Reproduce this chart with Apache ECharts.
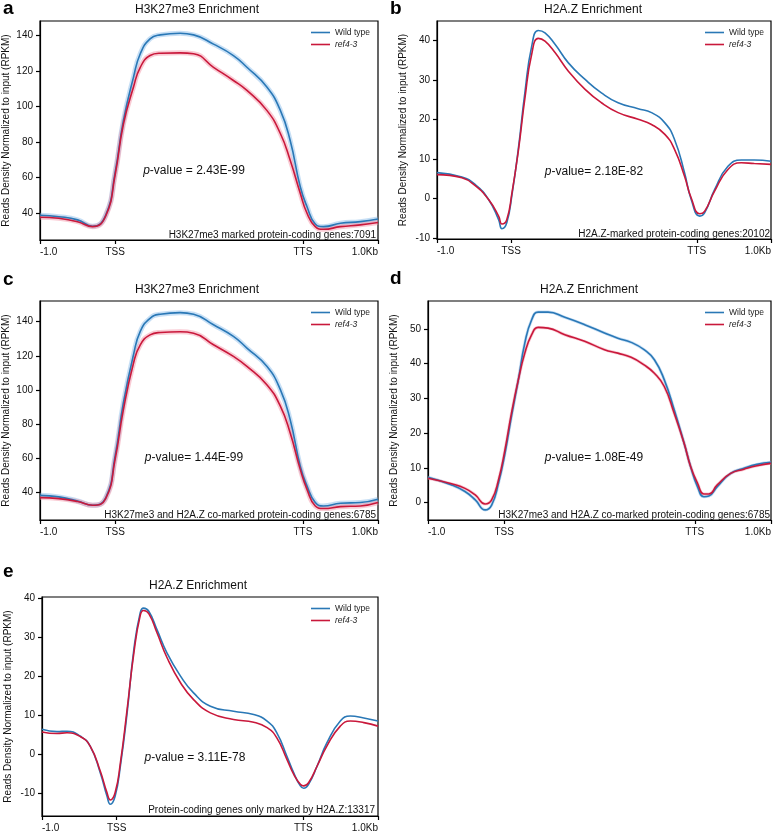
<!DOCTYPE html>
<html>
<head>
<meta charset="utf-8">
<script src="https://cdn.jsdelivr.net/npm/echarts@6/dist/echarts.min.js"></script>
<style>
  html, body { margin: 0; padding: 0; background: #fff; }
  #chart { width: 774px; height: 833px; }
</style>
</head>
<body>
<div id="chart"></div>
<script>
// x positions are in bp: TSS = 0, TTS = 2500 (scaled gene body), -1.0 = -1000, 1.0Kb = 3500
const xTickValues = [-1000, 0, 2500, 3500];
const xTickLabels = ['-1.0', 'TSS', 'TTS', '1.0Kb'];

// panel a
const aX = [-1000, -750, -500, -300, -125, 0, 110, 245, 335, 465, 600, 865, 1045, 1310, 1575, 1755, 2020, 2200, 2330, 2465, 2555, 2665, 2775, 3000, 3265, 3500];
const aWT = [38.9, 38.1, 36.3, 32.7, 39, 63, 92, 116.5, 129.6, 138, 140.2, 141.1, 140.2, 135, 128.6, 122, 110.9, 97.8, 81, 54.9, 43.7, 34, 32.5, 34.4, 35.3, 36.8];
const aRef = [37.8, 37.2, 35.3, 32.5, 38.5, 61.5, 90, 110.9, 122, 128.6, 129.9, 130.1, 129.6, 122, 114.6, 109, 97.8, 84.8, 69.9, 51.2, 40, 32.5, 31, 32.5, 33.5, 34.8];
const aYTicks = [40, 60, 80, 100, 120, 140];

// panel b
const bX = [-1000, -665, -485, -305, -170, -125, -60, 10, 95, 185, 275, 365, 455, 590, 770, 995, 1215, 1440, 1710, 1890, 2070, 2200, 2335, 2425, 2540, 2605, 2740, 2920, 3100, 3275, 3500];
const bWT = [6.6, 5.5, 3.6, -0.2, -5.3, -7.6, -6.1, 1.0, 12.5, 27, 38.5, 42.6, 42, 39.1, 34.4, 30.2, 26.8, 24.3, 22.8, 21.8, 19.2, 15, 6.6, -0.2, -4.4, -3.6, 2.3, 8.2, 9.8, 9.8, 9.5];
const bRef = [6.1, 5.3, 3.3, -0.2, -4.4, -6.4, -5.3, 1.5, 12, 25.5, 36.5, 40.6, 39.9, 37, 32.3, 27.7, 24.3, 21.8, 20.1, 18.8, 16.3, 12.5, 5.7, 0.2, -3.8, -3.2, 1.9, 7.4, 9.1, 8.9, 8.7];
const bYTicks = [-10, 0, 10, 20, 30, 40];

// panel c
const cX = [-1000, -750, -500, -300, -125, 0, 110, 245, 335, 465, 600, 865, 1045, 1310, 1575, 1755, 2020, 2200, 2330, 2465, 2555, 2665, 2775, 3000, 3265, 3500];
const cWT = [38.4, 37.5, 35.1, 32.6, 37, 61.4, 92.4, 120.6, 134.2, 141.9, 144.3, 145.2, 144.3, 138.1, 131.3, 124.5, 113.8, 100.2, 82.7, 55.5, 43.9, 34.2, 32.2, 33.8, 34.2, 36.1];
const cRef = [37.1, 36.5, 34.8, 32.6, 36.5, 59.4, 88.5, 115.7, 126.4, 132.2, 133.6, 134, 133.2, 126.4, 119.6, 113.8, 103.1, 90.5, 75, 53.6, 41.9, 32.2, 30.7, 31.8, 32.2, 34.2];
const cYTicks = [40, 60, 80, 100, 120, 140];

// panel d
const dX = [-1000, -690, -515, -380, -250, -165, -75, 10, 95, 185, 270, 360, 445, 575, 795, 1055, 1315, 1490, 1665, 1835, 1970, 2100, 2230, 2360, 2445, 2535, 2620, 2685, 2795, 2970, 3145, 3315, 3500];
const dWT = [7.3, 5.1, 3.2, 0.8, -2.1, -0.7, 5.6, 14.2, 24.8, 35.3, 45.9, 52.6, 54.8, 54.8, 53.3, 51.2, 48.8, 47.3, 46.1, 44, 41.1, 35.3, 26.7, 17.1, 10.4, 4.6, 1.7, 1.9, 4.6, 8.4, 9.9, 11, 11.6];
const dRef = [7, 5.4, 4.1, 2.2, -0.4, 0.8, 6.5, 15.2, 25.7, 35.3, 43, 48.3, 50.4, 50.2, 48.3, 46.4, 44, 43, 41.8, 39.6, 37.2, 33.4, 25.7, 17.1, 10.4, 5.6, 2.5, 2.5, 5.1, 8.4, 9.6, 10.6, 11.3];
const dYTicks = [0, 10, 20, 30, 40, 50];

// panel e
const eX = [-1000, -800, -665, -485, -355, -220, -130, -85, -20, 50, 140, 230, 315, 360, 430, 540, 675, 855, 1030, 1255, 1565, 1835, 2015, 2145, 2280, 2370, 2460, 2505, 2570, 2685, 2815, 2995, 3130, 3310, 3500];
const eWT = [6.4, 5.8, 5.9, 4.6, 2.1, -4.7, -10.7, -12.8, -10.7, -3, 10.6, 26.8, 36.2, 37.4, 36.6, 31.9, 25.9, 20, 15.7, 12.3, 11, 10.2, 8.5, 5.5, -0.5, -4.7, -8.1, -8.7, -7.7, -3, 2.9, 8.5, 9.8, 9.3, 8.5];
const eRef = [5.7, 5.3, 5.5, 4.5, 2.1, -4.3, -9.8, -11.7, -9.8, -2.2, 11.5, 25.9, 35.5, 36.8, 36, 31.1, 24.7, 18.3, 14, 10.6, 8.9, 8.2, 6.8, 4.2, -1.3, -5.1, -7.7, -8.1, -7.3, -3, 2.1, 7.2, 8.5, 8.1, 7.2];
const eYTicks = [-10, 0, 10, 20, 30, 40];

const FONT = 'Liberation Sans, Arial, sans-serif';
const BLUE = '#2a78b6';
const RED = '#c9183b';
const SMOOTH = 0.5;
const yName = 'Reads Density Normalized to input (RPKM)';

const panels = [
  { letter: 'a', x: aX, wt: aWT, ref: aRef, yTicks: aYTicks, yMin: 25, yMax: 148,
    grid: { left: 40, top: 21, width: 338, height: 219 }, band: 5,
    title: 'H3K27me3 Enrichment', titleX: 197, titleY: 9, letterPos: [3, 9],
    pText: ' = 2.43E-99', pPos: [194, 171],
    note: 'H3K27me3 marked protein-coding genes:7091', notePos: [376, 235] },
  { letter: 'b', x: bX, wt: bWT, ref: bRef, yTicks: bYTicks, yMin: -10.2, yMax: 45,
    grid: { left: 437, top: 21, width: 335, height: 218 }, band: 0,
    title: 'H2A.Z Enrichment', titleX: 593, titleY: 9, letterPos: [390, 9],
    pText: '= 2.18E-82', pPos: [594, 172],
    note: 'H2A.Z-marked protein-coding genes:20102', notePos: [770, 234] },
  { letter: 'c', x: cX, wt: cWT, ref: cRef, yTicks: cYTicks, yMin: 24, yMax: 152,
    grid: { left: 40, top: 301, width: 338, height: 219 }, band: 5,
    title: 'H3K27me3 Enrichment', titleX: 197, titleY: 289, letterPos: [3, 280],
    pText: '= 1.44E-99', pPos: [194, 458],
    note: 'H3K27me3 and H2A.Z co-marked protein-coding genes:6785', notePos: [376, 515] },
  { letter: 'd', x: dX, wt: dWT, ref: dRef, yTicks: dYTicks, yMin: -5, yMax: 58,
    grid: { left: 428, top: 301, width: 344, height: 219 }, band: 3,
    title: 'H2A.Z Enrichment', titleX: 589, titleY: 289, letterPos: [390, 279],
    pText: '= 1.08E-49', pPos: [594, 458],
    note: 'H3K27me3 and H2A.Z co-marked protein-coding genes:6785', notePos: [770, 515] },
  { letter: 'e', x: eX, wt: eWT, ref: eRef, yTicks: eYTicks, yMin: -15.8, yMax: 40.25,
    grid: { left: 42, top: 597, width: 336, height: 219 }, band: 0,
    title: 'H2A.Z Enrichment', titleX: 198, titleY: 585, letterPos: [3, 572],
    pText: ' = 3.11E-78', pPos: [195, 758],
    note: 'Protein-coding genes only marked by H2A.Z:13317', notePos: [375, 810] }
];

const zip = (xs, ys) => xs.map((x, i) => [x, ys[i]]);

const grids = [], xAxes = [], yAxes = [], series = [], titles = [], legends = [], graphics = [];

panels.forEach((p, i) => {
  grids.push(Object.assign({ show: true, borderColor: '#000', borderWidth: 1.2, containLabel: false }, p.grid));

  xAxes.push({
    gridIndex: i, type: 'value', min: -1000, max: 3500,
    axisLine: { show: true, onZero: false, lineStyle: { color: '#000', width: 1.2 } },
    axisTick: { show: true, length: 4, customValues: xTickValues, lineStyle: { color: '#000', width: 1.2 } },
    axisLabel: {
      customValues: xTickValues, margin: 7, fontSize: 10, fontFamily: FONT, color: '#111',
      alignMinLabel: 'left', alignMaxLabel: 'right',
      formatter: v => xTickLabels[xTickValues.indexOf(v)]
    },
    splitLine: { show: false }
  });

  yAxes.push({
    gridIndex: i, type: 'value', min: p.yMin, max: p.yMax,
    name: yName, nameLocation: 'middle', nameGap: 29, nameRotate: 90,
    nameTextStyle: { fontSize: 10, fontFamily: FONT, color: '#111' },
    axisLine: { show: true, onZero: false, lineStyle: { color: '#000', width: 1.2 } },
    axisTick: { show: true, length: 4, customValues: p.yTicks, lineStyle: { color: '#000', width: 1.2 } },
    axisLabel: { customValues: p.yTicks, margin: 7, fontSize: 10, fontFamily: FONT, color: '#111' },
    splitLine: { show: false }
  });

  const wtData = zip(p.x, p.wt);
  const refData = zip(p.x, p.ref);
  if (p.band) {
    series.push({ name: 'wt-se', type: 'line', xAxisIndex: i, yAxisIndex: i, data: wtData, smooth: SMOOTH,
      symbol: 'none', silent: true, z: 1, lineStyle: { color: 'rgba(130,185,232,0.45)', width: p.band } });
    series.push({ name: 'ref-se', type: 'line', xAxisIndex: i, yAxisIndex: i, data: refData, smooth: SMOOTH,
      symbol: 'none', silent: true, z: 1, lineStyle: { color: 'rgba(242,140,160,0.45)', width: p.band } });
  }
  series.push({ name: 'Wild type', type: 'line', xAxisIndex: i, yAxisIndex: i, data: wtData, smooth: SMOOTH,
    symbol: 'none', z: 3, color: BLUE, lineStyle: { color: BLUE, width: 1.6 } });
  series.push({ name: 'ref4-3', type: 'line', xAxisIndex: i, yAxisIndex: i, data: refData, smooth: SMOOTH,
    symbol: 'none', z: 4, color: RED, lineStyle: { color: RED, width: 1.6 } });

  titles.push({ text: p.title, left: p.titleX, top: p.titleY - 5, padding: 0, textAlign: 'center',
    textStyle: { fontSize: 12, fontWeight: 'normal', fontFamily: FONT, color: '#111' } });

  legends.push({
    data: ['Wild type', 'ref4-3'], orient: 'vertical', padding: 0,
    left: p.grid.left + p.grid.width - 67, top: p.grid.top + 7,
    icon: 'rect', itemWidth: 19, itemHeight: 1.6, itemGap: 3,
    textStyle: { fontSize: 8.5, fontFamily: FONT, color: '#222', rich: { i: { fontStyle: 'italic', fontSize: 8.5, fontFamily: FONT } } },
    formatter: n => n === 'ref4-3' ? '{i|ref4-3}' : n
  });

  graphics.push({ type: 'text', x: p.letterPos[0], y: p.letterPos[1],
    style: { text: p.letter, fontSize: 19, fontWeight: 'bold', fontFamily: FONT, fill: '#000', verticalAlign: 'middle' } });
  graphics.push({ type: 'text', x: p.pPos[0], y: p.pPos[1],
    style: { text: '{i|p}-value' + p.pText, fontSize: 12, fontFamily: FONT, fill: '#111', align: 'center', verticalAlign: 'middle',
      rich: { i: { fontStyle: 'italic', fontSize: 12, fontFamily: FONT, fill: '#111' } } } });
  graphics.push({ type: 'text', x: p.notePos[0], y: p.notePos[1],
    style: { text: p.note, fontSize: 10, fontFamily: FONT, fill: '#111', align: 'right', verticalAlign: 'middle' } });
});

const chart = echarts.init(document.getElementById('chart'), null, { renderer: 'canvas' });
chart.setOption({
  animation: false,
  backgroundColor: '#fff',
  title: titles,
  legend: legends,
  grid: grids,
  xAxis: xAxes,
  yAxis: yAxes,
  series: series,
  graphic: graphics
});
</script>
</body>
</html>
